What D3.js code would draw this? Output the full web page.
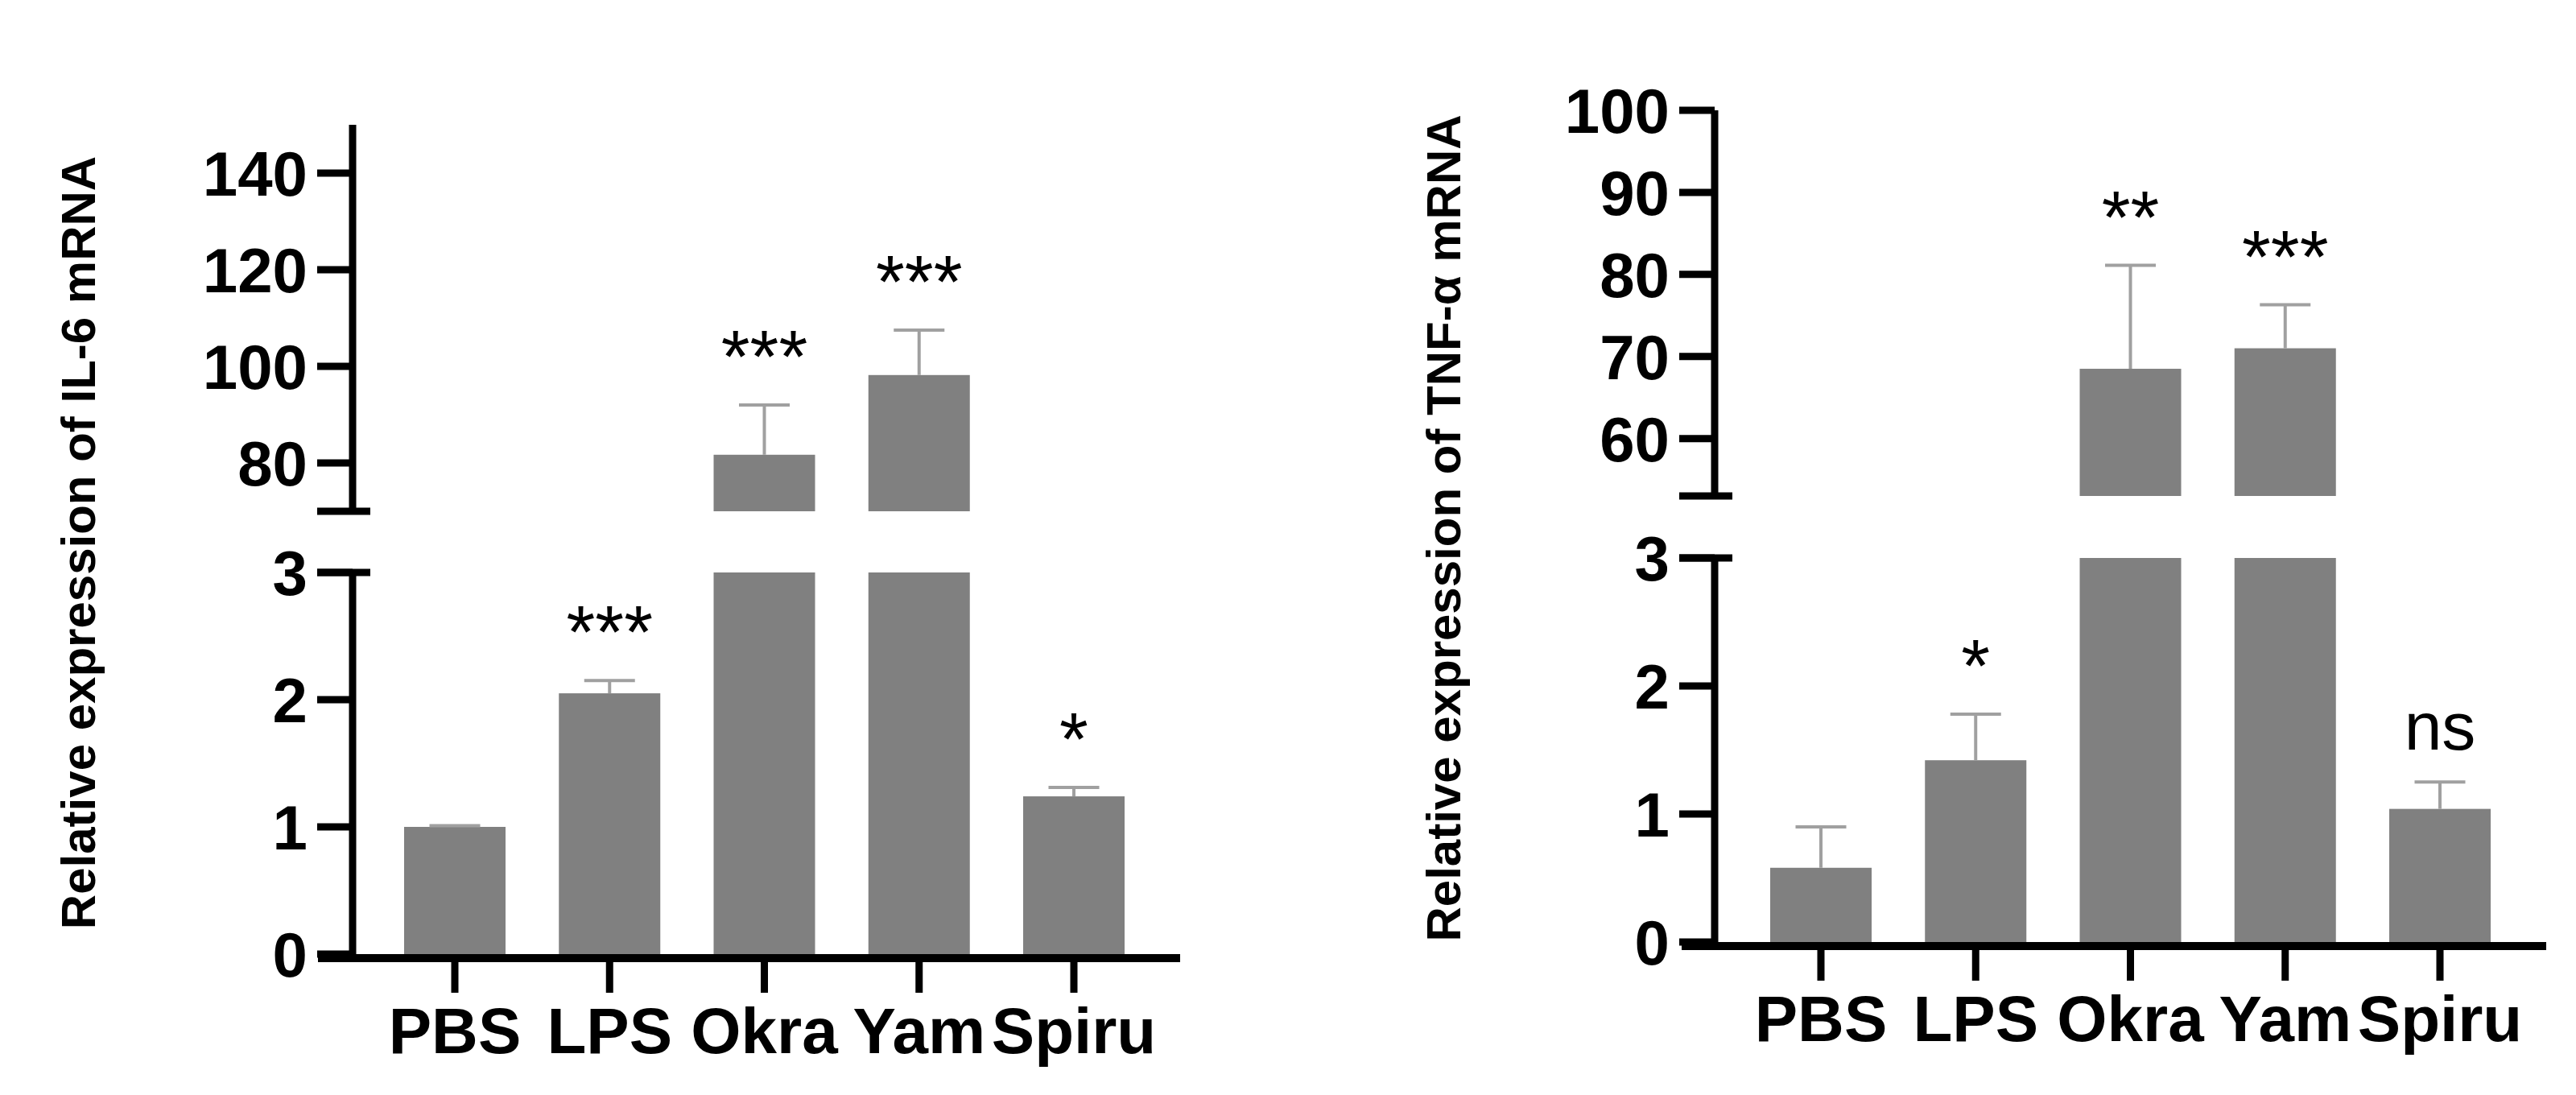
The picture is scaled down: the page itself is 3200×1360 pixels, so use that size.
<!DOCTYPE html>
<html><head><meta charset="utf-8">
<script src="https://cdn.jsdelivr.net/npm/d3@7"></script>
<style>body{margin:0;background:#fff}</style></head>
<body><svg id="c" width="3200" height="1360"></svg>
<script>
const categories = ["PBS","LPS","Okra","Yam","Spiru"];
const il6Values = [1.0, 2.05, 81.7, 98.2, 1.24];
const il6Errors = [1.01, 2.15, 92, 107.5, 1.31];
const il6Marks = ["", "***", "***", "***", "*"];
const il6UpperTicks = [80,100,120,140];
const tnfValues = [0.58, 1.42, 68.5, 71.0, 1.04];
const tnfErrors = [0.90, 1.78, 81.1, 76.3, 1.25];
const tnfMarks = ["", "*", "**", "***", "ns"];
const tnfUpperTicks = [60,70,80,90,100];
const lowerTicks = [0,1,2,3];

const svg = d3.select("#c");
const FONT = "'Liberation Sans Narrow','Liberation Sans',Arial,sans-serif";

function panel(o){
  const g = svg.append("g");
  const x = d3.scalePoint().domain(categories).range(o.xr);
  const yL = d3.scaleLinear().domain([0,3]).range(o.lowR);
  const yU = d3.scaleLinear().domain(o.upD).range(o.upR);
  const bw = 126;
  const bar = "#808080", err = "#a0a0a0";
  // bars
  categories.forEach((c,i)=>{
    const v = o.vals[i], e = o.errs[i], cx = x(c);
    if (v <= 3){
      g.append("rect").attr("x",cx-bw/2).attr("width",bw).attr("y",yL(v)).attr("height",yL(0)-yL(v)).attr("fill",bar);
      g.append("line").attr("x1",cx).attr("x2",cx).attr("y1",yL(v)).attr("y2",yL(e)).attr("stroke",err).attr("stroke-width",4);
      g.append("line").attr("x1",cx-bw/4).attr("x2",cx+bw/4).attr("y1",yL(e)).attr("y2",yL(e)).attr("stroke",err).attr("stroke-width",4);
    } else {
      g.append("rect").attr("x",cx-bw/2).attr("width",bw).attr("y",yL(3)).attr("height",yL(0)-yL(3)).attr("fill",bar);
      g.append("rect").attr("x",cx-bw/2).attr("width",bw).attr("y",yU(v)).attr("height",yU(o.upD[0])-yU(v)).attr("fill",bar);
      g.append("line").attr("x1",cx).attr("x2",cx).attr("y1",yU(v)).attr("y2",yU(e)).attr("stroke",err).attr("stroke-width",4);
      g.append("line").attr("x1",cx-bw/4).attr("x2",cx+bw/4).attr("y1",yU(e)).attr("y2",yU(e)).attr("stroke",err).attr("stroke-width",4);
    }
    const m = o.marks[i];
    if (m){
      const ey = e <= 3 ? yL(e) : yU(e);
      g.append("text").attr("x",cx).attr("y",ey - (m==="ns"?40:28)).attr("text-anchor","middle")
        .attr("font-family","'Liberation Sans',Arial,sans-serif").attr("font-size", m==="ns"?84:92)
        .text(m);
    }
  });
  // y axes
  const ax = o.ax;
  const line = (x1,y1,x2,y2,w)=>g.append("line").attr("x1",x1).attr("y1",y1).attr("x2",x2).attr("y2",y2).attr("stroke","#000").attr("stroke-width",w);
  line(ax, yL(0), ax, yL(3), 9);
  line(ax, yU(o.upD[0]), ax, yU(o.upD[1]), 9);
  line(ax-44, yL(3), ax+22, yL(3), 9);
  line(ax-44, yU(o.upD[0]), ax+22, yU(o.upD[0]), 9);
  lowerTicks.forEach(t=>{
    line(ax-44, yL(t), ax, yL(t), 9);
    g.append("text").attr("x",ax-56).attr("y",yL(t)).attr("dy","0.36em").attr("text-anchor","end")
      .attr("font-family",FONT).attr("font-weight","bold").attr("font-size",78).text(t);
  });
  o.upT.forEach(t=>{
    line(ax-44, yU(t), ax, yU(t), 9);
    g.append("text").attr("x",ax-56).attr("y",yU(t)).attr("dy","0.36em").attr("text-anchor","end")
      .attr("font-family",FONT).attr("font-weight","bold").attr("font-size",78).text(t);
  });
  // x axis
  line(o.xa[0], yL(0)+5, o.xa[1], yL(0)+5, 10);
  categories.forEach(c=>{
    line(x(c), yL(0)+5, x(c), yL(0)+48, 9);
    g.append("text").attr("x",x(c)).attr("y",o.labY).attr("text-anchor","middle")
      .attr("font-family",FONT).attr("font-weight","bold").attr("font-size",80).text(c);
  });
  // y label
  g.append("text").attr("transform",`translate(${o.ylx},${o.yly}) rotate(-90)`).attr("text-anchor","middle")
    .attr("font-family","'Liberation Sans',Arial,sans-serif").attr("font-weight","bold").attr("font-size",60)
    .text(o.title);
}

panel({xr:[565,1334], lowR:[1185,711], upD:[70,150], upR:[635,155], ax:438, xa:[395,1466],
  vals:il6Values, errs:il6Errors, marks:il6Marks, upT:il6UpperTicks, labY:1308, ylx:118, yly:674,
  title:"Relative expression of IL-6 mRNA"});
panel({xr:[2262,3031], lowR:[1170,693], upD:[53,100], upR:[616,137], ax:2130, xa:[2089,3163],
  vals:tnfValues, errs:tnfErrors, marks:tnfMarks, upT:tnfUpperTicks, labY:1293, ylx:1814, yly:656,
  title:"Relative expression of TNF-α mRNA"});
</script></body></html>
